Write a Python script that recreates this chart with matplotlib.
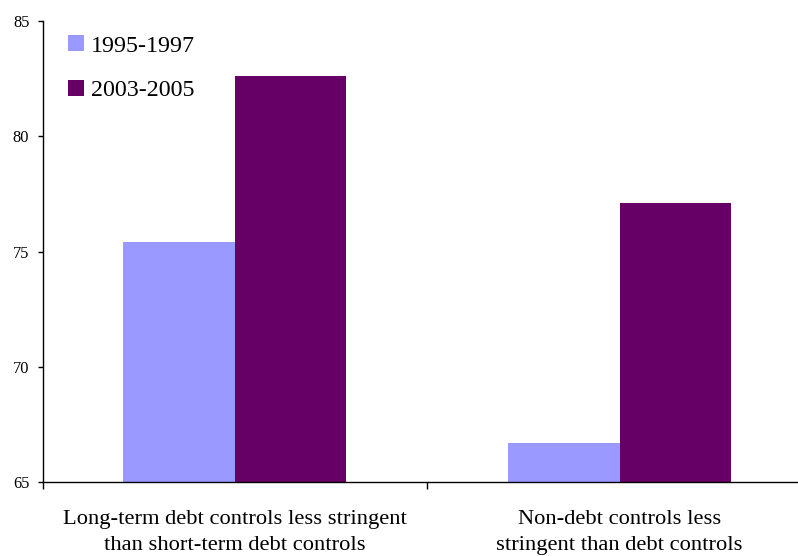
import numpy as np
import matplotlib
matplotlib.use("Agg")
import matplotlib.pyplot as plt

plt.rcParams['font.family'] = ['Liberation Serif', 'DejaVu Serif']

# share of countries, by type of control
categories = ["Long-term debt controls less stringent\nthan short-term debt controls",
              "Non-debt controls less\nstringent than debt controls"]
periods = ["1995-1997", "2003-2005"]
early = [75.4, 66.7]
late = [82.6, 77.1]
colors = ["#9999FF", "#660066"]

fig = plt.figure(figsize=(7.98, 5.56), dpi=100)
ax = fig.add_axes([0.0533, 0.1331, 0.9643, 0.829])

x = np.arange(len(categories))
w = 0.29
ax.bar(x - w / 2, np.array(early) - 65, w, bottom=65, color=colors[0], label=periods[0])
ax.bar(x + w / 2, np.array(late) - 65, w, bottom=65, color=colors[1], label=periods[1])

ax.set_xlim(-0.5, 1.5)
ax.set_ylim(65, 85)
ax.set_yticks([65, 70, 75, 80, 85])

# tick marks sit between categories, labels under the group centres
ax.set_xticks([-0.5, 0.5, 1.5])
ax.set_xticklabels([])
ax.set_xticks(x, minor=True)
ax.set_xticklabels(categories, minor=True, fontsize=16.2, linespacing=1.55)
ax.tick_params(axis='x', which='major', direction='out', length=5, width=1)
ax.tick_params(axis='x', which='minor', length=0, pad=20)
ax.tick_params(axis='y', direction='out', length=3.5, width=1, pad=6, labelsize=11.8)

for s in ['top', 'right']:
    ax.spines[s].set_visible(False)
for s in ['left', 'bottom']:
    ax.spines[s].set_linewidth(1)

leg = ax.legend(loc='upper left', bbox_to_anchor=(0.021, 0.99), frameon=False,
                fontsize=17.3, handlelength=0.65, handleheight=0.65,
                handletextpad=0.3, labelspacing=0.95, borderaxespad=0)

fig.savefig("out.png", dpi=100)
